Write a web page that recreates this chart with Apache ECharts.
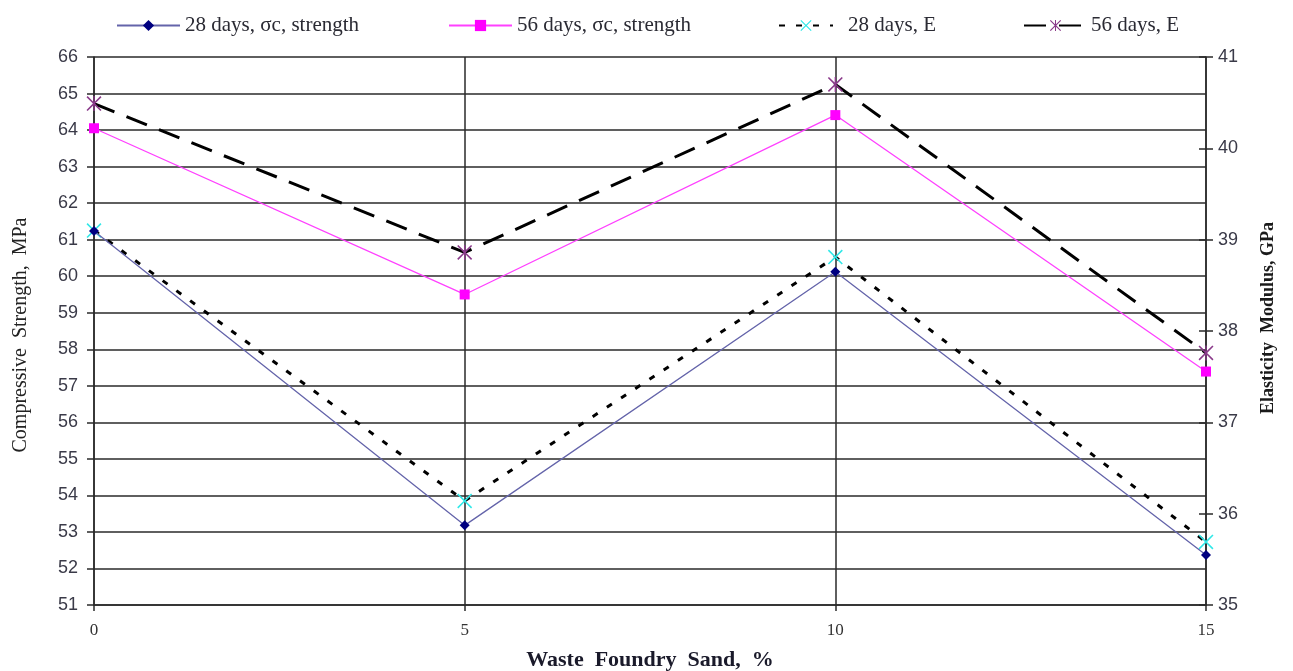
<!DOCTYPE html>
<html>
<head>
<meta charset="utf-8">
<script src="https://cdn.jsdelivr.net/npm/echarts@6/dist/echarts.min.js"></script>
<style>
html,body{margin:0;padding:0;background:#fff;}
#chart{width:1293px;height:671px;}
</style>
</head>
<body>
<div id="chart"></div>
<script>
// Data
const sandPercent = [0, 5, 10, 15];
const strength28 = [61.24, 53.18, 60.12, 52.37];
const strength56 = [64.05, 59.50, 64.41, 57.39];
const modulus28 = [39.10, 36.14, 38.81, 35.69];
const modulus56 = [40.49, 38.86, 40.70, 37.76];
const seriesNames = ['28 days, σc, strength', '56 days, σc, strength', '28 days, E', '56 days, E'];

const pairs = (ys) => sandPercent.map((x, i) => [x, ys[i]]);

const X_PATH = 'path://M0,1.5L1.5,0L10,8.5L18.5,0L20,1.5L11.5,10L20,18.5L18.5,20L10,11.5L1.5,20L0,18.5L8.5,10Z';
const AST_PATH = 'path://M0,1.5L1.5,0L10,8.5L18.5,0L20,1.5L11.5,10L20,18.5L18.5,20L10,11.5L1.5,20L0,18.5L8.5,10Z M9.1,0L10.9,0L10.9,20L9.1,20Z';

const serif = 'Liberation Serif';
const sans = 'Liberation Sans';
const gridColor = '#2a2a2a';

const legendText = {fontFamily: serif, fontSize: 21, color: '#2a2a33'};
const legendBase = {top: 15, padding: 0, itemWidth: 63, itemHeight: 14, itemGap: 0};

const chart = echarts.init(document.getElementById('chart'), null, {renderer: 'canvas'});
chart.setOption({
  animation: false,
  backgroundColor: '#fff',
  grid: {left: 94, right: 87, top: 57, bottom: 66, containLabel: false, outerBoundsMode: 'none'},
  legend: [
    Object.assign({}, legendBase, {left: 116, data: [seriesNames[0]], textStyle: legendText}),
    Object.assign({}, legendBase, {left: 448, data: [seriesNames[1]], textStyle: legendText}),
    Object.assign({}, legendBase, {left: 778, itemWidth: 54, data: [seriesNames[2]], textStyle: Object.assign({}, legendText, {padding: [0,0,0,10]})}),
    Object.assign({}, legendBase, {left: 1023, data: [seriesNames[3]], textStyle: Object.assign({}, legendText, {padding: [0,0,0,-1]})})
  ],
  xAxis: {
    type: 'value', min: 0, max: 15, interval: 5,
    name: 'Waste  Foundry  Sand,  %', nameLocation: 'middle', nameGap: 44,
    nameTextStyle: {fontFamily: serif, fontSize: 22, fontWeight: 'bold', color: '#1a1a2a'},
    axisLine: {show: true, lineStyle: {color: gridColor, width: 1.5}},
    axisTick: {show: true, length: 6, lineStyle: {color: gridColor, width: 1.5}},
    axisLabel: {margin: 17, fontFamily: serif, fontSize: 17, color: '#333'},
    splitLine: {show: true, lineStyle: {color: gridColor, width: 1.5}}
  },
  yAxis: [
    {
      type: 'value', position: 'left', min: 51, max: 66, interval: 1,
      name: 'Compressive  Strength,  MPa', nameLocation: 'middle', nameGap: 63, nameRotate: 90,
      nameTextStyle: {fontFamily: serif, fontSize: 20, color: '#222', padding: [0, 8, 0, 0]},
      axisLine: {show: true, lineStyle: {color: gridColor, width: 1.5}},
      axisTick: {show: true, length: 7, lineStyle: {color: gridColor, width: 1.5}},
      axisLabel: {margin: 16, fontFamily: sans, fontSize: 18, color: '#3a3a48'},
      splitLine: {show: true, lineStyle: {color: gridColor, width: 1.5}}
    },
    {
      type: 'value', position: 'right', min: 35, max: 41, interval: 1,
      name: 'Elasticity  Modulus, GPa', nameLocation: 'middle', nameGap: 53, nameRotate: 90,
      nameTextStyle: {fontFamily: serif, fontSize: 18, fontWeight: 'bold', color: '#1a1a1a', padding: [0, 0, 0, 26]},
      axisLine: {show: true, lineStyle: {color: gridColor, width: 1.5}},
      axisTick: {show: true, length: 7, lineStyle: {color: gridColor, width: 1.5}},
      axisLabel: {margin: 12, fontFamily: sans, fontSize: 18, color: '#3a3a48'},
      splitLine: {show: false}
    },
    {
      type: 'value', position: 'right', min: 35, max: 41, interval: 1,
      axisLine: {show: false},
      axisTick: {show: true, inside: true, length: 7, lineStyle: {color: gridColor, width: 1.5}},
      axisLabel: {show: false},
      splitLine: {show: false}
    }
  ],
  series: [
    {
      name: seriesNames[0], type: 'line', yAxisIndex: 0, data: pairs(strength28),
      symbol: 'diamond', symbolSize: 10,
      itemStyle: {color: '#000080'},
      lineStyle: {color: '#6464aa', width: 1.3}, z: 3
    },
    {
      name: seriesNames[1], type: 'line', yAxisIndex: 0, data: pairs(strength56),
      symbol: 'rect', symbolSize: 10,
      itemStyle: {color: '#ff00ff'},
      lineStyle: {color: '#ff40ff', width: 1.3}, z: 3
    },
    {
      name: seriesNames[2], type: 'line', yAxisIndex: 1, data: pairs(modulus28),
      symbol: X_PATH, symbolSize: 15,
      itemStyle: {color: '#30e8e8'},
      lineStyle: {color: '#000', width: 3, type: [6, 11]}, z: 2
    },
    {
      name: seriesNames[3], type: 'line', yAxisIndex: 1, data: pairs(modulus56),
      symbol: AST_PATH, symbolSize: 15,
      itemStyle: {color: '#8a3a8a'},
      lineStyle: {color: '#000', width: 3, type: [22, 13]}, z: 2
    }
  ]
});
</script>
</body>
</html>
